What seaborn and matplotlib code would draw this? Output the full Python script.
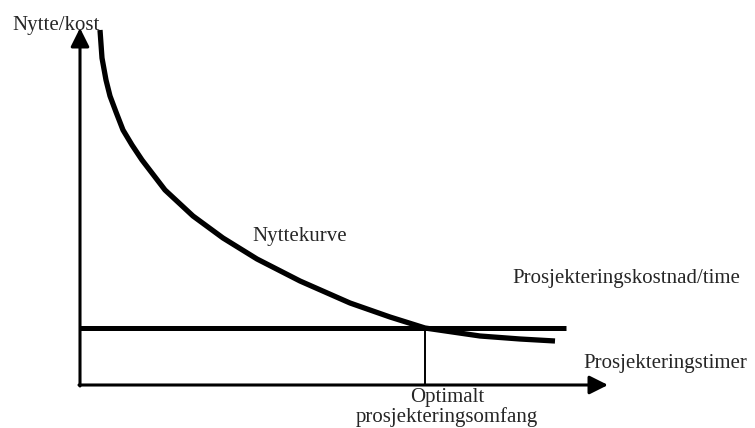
import matplotlib
matplotlib.use("Agg")
import matplotlib.pyplot as plt
import seaborn as sns
import pandas as pd

# Benefit curve (Nyttekurve) (x: hours, y: value)
hours = [0.40, 0.44, 0.52, 0.60, 0.72, 0.86, 1.04, 1.24, 1.70, 2.26,
         2.86, 3.54, 4.40, 5.40, 6.20, 6.90, 8.00, 8.80, 9.50]
benefit = [7.10, 6.54, 6.10, 5.78, 5.46, 5.10, 4.80, 4.50, 3.90, 3.38,
           2.94, 2.52, 2.08, 1.64, 1.36, 1.14, 0.98, 0.92, 0.88]

# Cost per hour (horizontal line)
cost_x = [0.0, 9.72]
cost_y = [1.14, 1.14]

# Optimal point
opt_x = 6.90
opt_y = 1.14

# Axis extents
x_axis_end = 10.56
y_axis_end = 7.14

labels = {
    "ylabel": "Nytte/kost",
    "curve": "Nyttekurve",
    "cost": "Prosjekteringskostnad/time",
    "xlabel": "Prosjekteringstimer",
    "opt": "Optimalt\nprosjekteringsomfang",
}

sns.set_theme(style="white")
plt.rcParams["font.family"] = ["Liberation Serif", "DejaVu Serif"]

fig = plt.figure(figsize=(7.55, 4.28), dpi=100)
ax = fig.add_axes([0, 0, 1, 1])
ax.set_xlim(-1.6, 13.5)
ax.set_ylim(-0.86, 7.7)
ax.axis("off")

df_curve = pd.DataFrame({"x": hours, "y": benefit})
sns.lineplot(data=df_curve, x="x", y="y", sort=False, estimator=None,
             color="black", lw=3.8, ax=ax, solid_capstyle="butt",
             solid_joinstyle="round")

df_cost = pd.DataFrame({"x": cost_x, "y": cost_y})
sns.lineplot(data=df_cost, x="x", y="y", sort=False, estimator=None,
             color="black", lw=3.6, ax=ax, solid_capstyle="butt")

df_opt = pd.DataFrame({"x": [opt_x, opt_x], "y": [0.0, opt_y]})
sns.lineplot(data=df_opt, x="x", y="y", sort=False, estimator=None,
             color="black", lw=1.4, ax=ax)

# Axes with arrows
arrow = dict(arrowstyle="-|>,head_length=0.8,head_width=0.4", lw=2.2,
             color="black", shrinkA=0, shrinkB=0, mutation_scale=14)
ax.annotate("", xy=(0, y_axis_end), xytext=(0, -0.02), arrowprops=arrow)
ax.annotate("", xy=(x_axis_end, 0), xytext=(-0.02, 0), arrowprops=arrow)

fs = 15
ax.text(-1.36, 7.10, labels["ylabel"], fontsize=fs, ha="left", va="baseline")
ax.text(3.44, 2.88, labels["curve"], fontsize=fs, ha="left", va="baseline")
ax.text(8.64, 2.04, labels["cost"], fontsize=fs, ha="left", va="baseline")
ax.text(10.06, 0.34, labels["xlabel"], fontsize=fs, ha="left", va="baseline")
ax.text(7.34, -0.74, labels["opt"], fontsize=fs, ha="center", va="baseline",
        multialignment="center", linespacing=1.0)

fig.savefig("out.png", dpi=100)
